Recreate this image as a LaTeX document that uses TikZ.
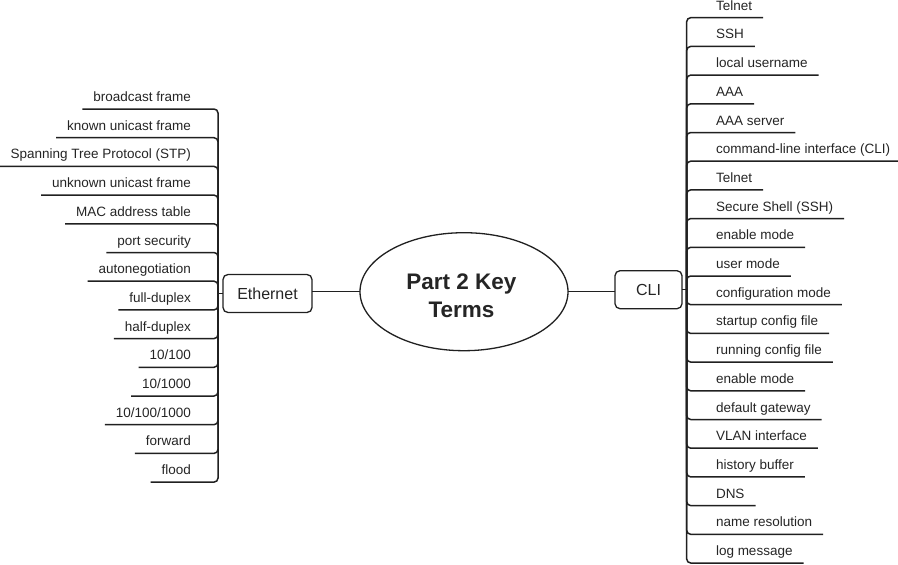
\documentclass[tikz,border=0pt]{standalone}
\usepackage{fontspec}
\setmainfont{Liberation Sans}
\usetikzlibrary{shapes.geometric,calc}
\definecolor{ink}{HTML}{202020}
\definecolor{txt}{HTML}{252525}
\begin{document}
\begin{tikzpicture}[x=1pt,y=-1pt,
 leaf/.style={inner xsep=11pt,inner ysep=7.5pt,text height=10pt,text depth=0pt,outer sep=0pt,font=\fontsize{13.5}{15}\selectfont,text=txt},
 leafL/.style={leaf,anchor=south east},
 leafR/.style={leaf,anchor=south west},
 hub/.style={draw=ink,line width=1.3pt,rounded corners=5pt,minimum height=38pt,inner sep=0pt,outer sep=0pt,font=\fontsize{16}{18}\selectfont,text=txt},
 link/.style={draw=ink,line width=1.5pt,rounded corners=4pt},
 root/.style={draw=ink,line width=1.3pt,ellipse,minimum width=208pt,minimum height=118pt,inner sep=0pt,outer sep=0pt}]
\useasboundingbox (0,0) rectangle (898,565);
% central topic
\node[root] (ell) at (464,291.7) {};
\node[font=\bfseries\fontsize{22.5}{28}\selectfont,align=center,text=txt,inner sep=0pt] (title) at (461.5,295.5) {Part 2 Key\\Terms};
% hubs
\node[hub,minimum width=89pt] (eth) at (267.5,293.5) {Ethernet};
\node[hub,minimum width=67pt] (cli) at (648.5,289.7) {CLI};
\draw[link] (ell.west) -- (ell.west -| eth.east);
\draw[link] (ell.east) -- (ell.east -| cli.west);
\coordinate (ethS) at ($(eth.west)+(-5,0)$);
\coordinate (cliS) at ($(cli.east)+(4.7,0)$);
\draw[link] (eth.west) -- (ethS);
\draw[link] (cli.east) -- (cliS);
% Ethernet leaves
\foreach \t [count=\i] in {broadcast frame,known unicast frame,Spanning Tree Protocol (STP),unknown unicast frame,MAC address table,port security,autonegotiation,full-duplex,half-duplex,10/100,10/1000,10/100/1000,forward,flood}{
  \node[leafL] (L\i) at (202,{109+28.7*(\i-1)}) {\t};
  \draw[link] (ethS) |- (L\i.south west);
}
% CLI leaves
\foreach \t [count=\i] in {Telnet,SSH,local username,AAA,AAA server,command-line interface (CLI),Telnet,Secure Shell (SSH),enable mode,user mode,configuration mode,startup config file,running config file,enable mode,default gateway,VLAN interface,history buffer,DNS,name resolution,log message}{
  \node[leafR] (R\i) at (705,{17.7+28.7*(\i-1)}) {\t};
  \draw[link] (cliS) |- (R\i.south east);
}
\end{tikzpicture}
\end{document}
